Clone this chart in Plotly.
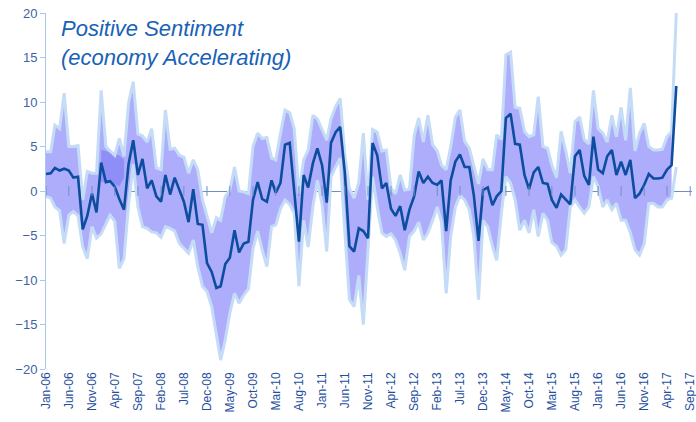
import pandas as pd
import plotly.graph_objects as go

# ---- data (monthly, Jan-06 .. Jun-17) ----
start = "2006-01-01"
n_months = 138

median = [1.9, 2.0, 2.6, 2.3, 2.5, 2.3, 1.5, 1.6, -4.3, -2.8,
          -0.3, -2.4, 3.2, 1.0, 1.1, 0.5, -0.9, -2.1, 3.0, 5.7,
          1.8, 3.6, 0.3, 1.2, -0.6, -1.2, 1.8, -0.4, 1.5, 0.1,
          -1.2, -3.5, 0.2, -3.7, -3.8, -8.1, -9.1, -10.9, -10.7, -8.2,
          -7.5, -4.4, -6.9, -5.9, -5.7, -1.0, 1.0, -0.9, -1.2, 1.2,
          -0.2, 0.9, 5.2, 5.4, 0.0, -5.7, 1.8, 0.4, 3.1, 4.8,
          2.9, -1.3, 5.4, 6.6, 7.2, 2.0, -6.2, -6.8, -4.2, -4.5,
          -5.3, 5.4, 4.0, 0.3, 0.9, -2.0, -2.8, -1.7, -4.4, -2.1,
          -0.6, 2.2, 0.9, 1.6, 0.9, 0.7, 1.2, -4.5, 1.2, 3.3,
          4.1, 2.7, 2.7, -0.5, -5.6, 0.1, 0.4, -1.6, -0.6, 0.0,
          8.2, 8.7, 5.3, 5.2, 1.8, 0.2, 2.1, 2.7, 0.9, 0.8,
          -1.0, -1.9, -0.4, -1.0, -1.5, 3.9, 4.6, 1.7, 0.7, 6.1,
          2.4, 2.0, 3.9, 4.6, 1.8, 3.3, 1.8, 3.5, -0.8, -0.3,
          0.7, 1.9, 1.4, 1.4, 1.5, 2.4, 2.9, 11.8]

upper = [4.4, 4.4, 7.4, 7.0, 11.0, 5.0, 5.0, 5.1, -1.0, 2.2,
         2.0, 2.0, 11.3, 5.0, 4.5, 4.0, 5.9, 3.9, 9.9, 12.3,
         6.4, 6.2, 5.5, 7.0, 2.6, 2.4, 9.1, 4.7, 4.8, 4.0,
         3.8, 2.0, 3.5, 2.4, -1.0, -2.9, -4.7, -3.0, -3.3, -0.6,
         0.1, 2.7, 0.0, -0.1, -0.3, 5.0, 6.5, 5.9, 6.0, 3.7,
         3.5, 6.5, 9.1, 8.8, 7.0, -0.3, 3.5, 4.6, 8.5, 8.1,
         6.9, 5.7, 8.1, 9.5, 10.4, 4.0, 0.3, -0.8, 1.0, 6.5,
         -1.0, 6.9, 6.6, 4.5, 4.6, 0.3, -0.3, 1.8, 0.1, 0.2,
         6.2, 8.2, 5.5, 8.5, 5.2, 4.5, 2.9, 2.4, 5.0, 8.3,
         9.1, 5.6, 4.8, 2.7, 0.8, 3.6, 2.4, 2.4, 6.3, 5.8,
         15.3, 15.6, 9.4, 9.3, 6.7, 6.1, 6.3, 10.6, 5.0, 4.8,
         2.9, 1.5, 6.7, 4.5, 2.0, 7.8, 8.3, 5.8, 5.3, 11.3,
         7.0, 6.5, 5.5, 8.5, 6.1, 9.4, 5.7, 11.6, 4.5, 6.5,
         7.6, 5.0, 4.6, 4.6, 4.7, 6.1, 6.7, 20.0]

lower = [-0.6, -0.8, -1.8, -2.2, -5.9, -2.7, -2.3, -2.8, -6.3, -7.6,
         -4.0, -5.3, -4.8, -3.6, -2.7, -3.4, -8.7, -7.6, -1.5, 3.0,
         -1.8, -4.0, -4.2, -4.6, -4.7, -5.2, -4.0, -4.2, -4.5, -5.9,
         -6.4, -7.0, -5.5, -8.5, -10.7, -11.3, -13.0, -16.0, -19.0, -16.7,
         -13.7, -11.5, -12.6, -11.7, -11.0, -6.5, -4.5, -6.6, -8.5, -4.0,
         -3.8, -2.0, -1.0, -1.5, -2.5, -10.7, -3.3, -6.3, -1.8, 1.2,
         -1.5, -6.8, 1.6, 2.7, 3.7, -4.7, -12.2, -13.0, -9.5, -15.0,
         -6.5, 1.6, -1.8, -4.7, -5.1, -4.8, -5.5, -7.0, -8.9, -5.1,
         -4.5, -3.5, -5.5, -4.7, -3.3, -1.8, -3.5, -11.5, -5.1, -1.8,
         -0.5, -1.0, -2.1, -5.1, -12.2, -3.3, -4.0, -6.2, -7.8, -2.5,
         1.6, 0.9, -1.0, -4.4, -3.3, -4.7, -2.1, -5.1, -2.5, -3.3,
         -5.8, -6.2, -7.2, -6.6, -1.8, -1.0, -1.8, -2.5, -1.8, 1.6,
         0.5, -1.8, -1.0, -2.1, -1.4, -3.3, -3.3, -4.7, -6.6, -7.2,
         -5.9, -1.4, -1.4, -1.8, -1.8, -1.0, -0.8, 2.7]

# darker overlapping band, early 2007 (months 12..17)
overlap_start = "2007-01-01"
overlap_upper = [4.6, 4.5, 4.3, 4.1, 4.0, 3.5]
overlap_lower = [1.0, 1.0, 0.9, 0.8, 0.5, 1.5]

tick_dates = pd.date_range("2006-01-01", "2017-09-01", freq="5MS")
tick_labels = [d.strftime("%b-%y") for d in tick_dates]

title_text = "<i>Positive Sentiment<br>(economy Accelerating)</i>"

# ---- figure ----
months = pd.date_range(start, periods=n_months, freq="MS")
ov_months = pd.date_range(overlap_start, periods=len(overlap_upper), freq="MS")

PURPLE = "#adadfb"
DARK_PURPLE = "#8e8ef6"
LIGHT = "#c5dcf7"
MED = "#0d4d9f"

fig = go.Figure()
fill_x = months[:-1]
fig.add_trace(go.Scatter(x=fill_x, y=lower[:-1], mode="lines",
                         line=dict(width=0), hoverinfo="skip", showlegend=False))
fig.add_trace(go.Scatter(x=fill_x, y=upper[:-1], mode="lines", fill="tonexty",
                         fillcolor=PURPLE, line=dict(width=0),
                         hoverinfo="skip", showlegend=False))
fig.add_trace(go.Scatter(x=ov_months, y=overlap_lower, mode="lines",
                         line=dict(width=0), hoverinfo="skip", showlegend=False))
fig.add_trace(go.Scatter(x=ov_months, y=overlap_upper, mode="lines", fill="tonexty",
                         fillcolor=DARK_PURPLE, line=dict(width=0),
                         hoverinfo="skip", showlegend=False))
for arr in (upper, lower):
    fig.add_trace(go.Scatter(x=months, y=arr, mode="lines",
                             line=dict(color=LIGHT, width=3),
                             hoverinfo="skip", showlegend=False))
fig.add_trace(go.Scatter(x=months, y=median, mode="lines",
                         line=dict(color=MED, width=2.6),
                         hoverinfo="skip", showlegend=False))
# small tick marks on the zero line
fig.add_trace(go.Scatter(x=tick_dates, y=[0] * len(tick_dates), mode="markers",
                         marker=dict(symbol="line-ns", size=7,
                                     line=dict(width=1, color="#6f8fc2")),
                         hoverinfo="skip", showlegend=False, cliponaxis=False))

fig.add_annotation(text=title_text, xref="paper", yref="paper", x=0.02, y=0.998,
                   xanchor="left", yanchor="top", showarrow=False, align="left",
                   font=dict(family="Liberation Sans, Arial", size=22, color="#1862b5"))

fig.update_layout(
    width=696, height=422,
    margin=dict(l=46, r=4, t=13, b=53),
    paper_bgcolor="white", plot_bgcolor="white",
    font=dict(family="Liberation Sans, Arial"),
    xaxis=dict(range=["2006-01-01", "2017-09-13"], tickvals=tick_dates,
               ticktext=tick_labels, tickangle=-90, showgrid=False,
               showline=False, zeroline=False, ticks="", automargin=False,
               ticklabeloverflow="allow",
               tickfont=dict(size=12, color="#1f4f9e")),
    yaxis=dict(range=[-20, 20], dtick=5, showgrid=False, showline=True,
               linecolor="#a6c8ef", linewidth=1, ticks="outside", ticklen=5,
               tickcolor="#a6c8ef", zeroline=True, zerolinecolor="#6f8fc2",
               zerolinewidth=1.3, automargin=False, ticklabeloverflow="allow",
               tickfont=dict(size=13, color="#3d63a6")),
)

# remove the default 8px page margin so the figure sits at the window's corner
fig.write_html("out.html", config={"displayModeBar": False},
               post_script="document.body.style.margin='0';document.body.style.overflow='hidden';")
